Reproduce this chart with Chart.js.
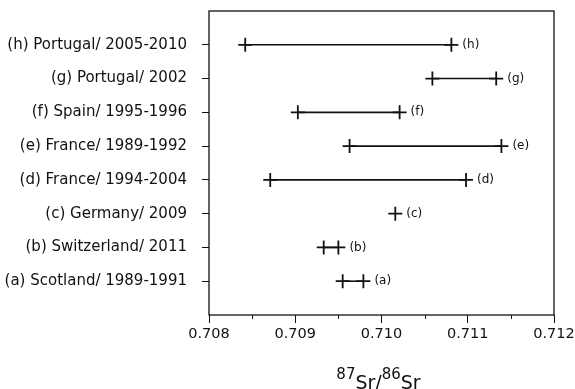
<!DOCTYPE html>
<html>
<head>
<meta charset="utf-8">
<script src="https://cdn.jsdelivr.net/npm/chart.js@4"></script>
<style>
  html, body { margin: 0; padding: 0; background: #fff; }
  #wrap { width: 575px; height: 389px; position: relative; }
</style>
</head>
<body>
<div id="wrap"><canvas id="srChart"></canvas></div>
<script>
// Chart data (bottom to top: a .. h)
const categories = [
    '(a) Scotland/ 1989-1991',
    '(b) Switzerland/ 2011',
    '(c) Germany/ 2009',
    '(d) France/ 1994-2004',
    '(e) France/ 1989-1992',
    '(f) Spain/ 1995-1996',
    '(g) Portugal/ 2002',
    '(h) Portugal/ 2005-2010'
];
const shortLabels = ['(a)', '(b)', '(c)', '(d)', '(e)', '(f)', '(g)', '(h)'];
const lowValues  = [0.70955, 0.70933, null,    0.70871, 0.70963, 0.70903, 0.71059, 0.70842];
const highValues = [0.70979, 0.70950, 0.71016, 0.71098, 0.71139, 0.71021, 0.71133, 0.71081];
const xTicks = [0.708, 0.709, 0.710, 0.711, 0.712];

const FONT = "'DejaVu Sans', sans-serif";
const INK = '#111';

// one dataset per row: a line between the two crosses
const datasets = categories.map((name, i) => {
    const pts = [];
    if (lowValues[i] !== null) pts.push({ x: lowValues[i], y: i + 1 });
    if (highValues[i] !== null) pts.push({ x: highValues[i], y: i + 1 });
    return {
        label: name,
        data: pts,
        showLine: true,
        borderColor: INK,
        borderWidth: 1.6,
        pointStyle: 'cross',
        pointRadius: 7,
        pointBorderWidth: 1.8,
        pointBorderColor: INK
    };
});

// box around the plot + minor ticks + row letters + axis title
const decorations = {
    id: 'decorations',
    afterDraw(chart) {
        const { ctx, chartArea: a, scales } = chart;
        ctx.save();
        ctx.strokeStyle = INK;
        ctx.lineWidth = 1.3;
        ctx.strokeRect(a.left, a.top, a.right - a.left, a.bottom - a.top);

        // minor ticks halfway between the major ones
        const xs = scales.x;
        const tv = xs.ticks.map(t => t.value);
        ctx.lineWidth = 1;
        for (let i = 0; i < tv.length - 1; i++) {
            const px = Math.round(xs.getPixelForValue((tv[i] + tv[i + 1]) / 2)) + 0.5;
            ctx.beginPath();
            ctx.moveTo(px, a.bottom);
            ctx.lineTo(px, a.bottom + 4);
            ctx.stroke();
        }

        // letters after the right-hand cross
        ctx.fillStyle = INK;
        ctx.font = '12px ' + FONT;
        ctx.textAlign = 'left';
        ctx.textBaseline = 'middle';
        chart.data.datasets.forEach((ds, i) => {
            const pts = chart.getDatasetMeta(i).data;
            const last = pts[pts.length - 1];
            if (last) ctx.fillText(shortLabels[i], last.x + 11, last.y);
        });

        // x title: 87Sr/86Sr
        const parts = [
            { t: '87', size: 15, dy: -10 },
            { t: 'Sr', size: 19, dy: 0 },
            { t: '/', size: 19, dy: 0 },
            { t: '86', size: 15, dy: -10 },
            { t: 'Sr', size: 19, dy: 0 }
        ];
        ctx.textBaseline = 'alphabetic';
        let total = 0;
        parts.forEach(p => {
            ctx.font = p.size + 'px ' + FONT;
            p.w = ctx.measureText(p.t).width;
            total += p.w;
        });
        let x = (a.left + a.right) / 2 - total / 2 - 3;
        const base = 389;
        parts.forEach(p => {
            ctx.font = p.size + 'px ' + FONT;
            ctx.fillText(p.t, x, base + p.dy);
            x += p.w;
        });
        ctx.restore();
    }
};

new Chart(document.getElementById('srChart'), {
    type: 'scatter',
    data: { datasets },
    options: {
        responsive: true,
        maintainAspectRatio: false,
        animation: false,
        events: [],
        layout: { padding: { top: 11, right: 21, left: 0, bottom: 0 } },
        plugins: {
            legend: { display: false },
            tooltip: { enabled: false }
        },
        scales: {
            x: {
                type: 'linear',
                min: xTicks[0],
                max: xTicks[xTicks.length - 1],
                afterBuildTicks: s => { s.ticks = xTicks.map(v => ({ value: v })); },
                afterFit: s => { s.height = 74; s.paddingLeft = 0; s.paddingRight = 0; },
                border: { display: false },
                grid: { drawOnChartArea: false, drawTicks: true, tickLength: 8, color: INK, tickWidth: 1 },
                ticks: {
                    padding: 3,
                    color: INK,
                    font: { family: FONT, size: 14.5 },
                    callback: v => Number(v).toFixed(3)
                }
            },
            y: {
                type: 'linear',
                min: 0,
                max: categories.length + 1,
                afterBuildTicks: s => { s.ticks = categories.map((c, i) => ({ value: i + 1 })); },
                afterFit: s => { s.width = 209; s.paddingTop = 0; s.paddingBottom = 0; },
                border: { display: false },
                grid: { drawOnChartArea: false, drawTicks: true, tickLength: 7, color: INK, tickWidth: 1 },
                ticks: {
                    padding: 15,
                    color: INK,
                    font: { family: FONT, size: 15 },
                    callback: v => categories[v - 1] || ''
                }
            }
        }
    },
    plugins: [decorations]
});
</script>
</body>
</html>
